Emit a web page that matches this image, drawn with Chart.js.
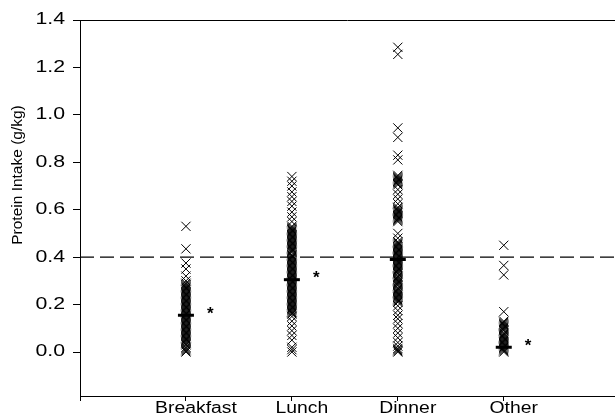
<!DOCTYPE html>
<html><head><meta charset="utf-8">
<script src="https://cdn.jsdelivr.net/npm/chart.js@4/dist/chart.umd.min.js"></script>
<style>html,body{margin:0;padding:0;background:#fff;overflow:hidden}#wrap{width:615px;height:416px}</style>
</head><body><div id="wrap"><canvas id="c" width="615" height="416"></canvas></div>
<script>
const categories = ['Breakfast', 'Lunch', 'Dinner', 'Other'];
const breakfast = [0.53, 0.435, 0.375, 0.35, 0.32, 0.30, 0.29, 0.285, 0.28, 0.275, 0.27, 0.265, 0.26, 0.255, 0.25, 0.245, 0.24, 0.235, 0.23, 0.225, 0.22, 0.215, 0.21, 0.205, 0.20, 0.195, 0.19, 0.185, 0.18, 0.175, 0.17, 0.165, 0.16, 0.155, 0.15, 0.145, 0.14, 0.135, 0.13, 0.125, 0.12, 0.115, 0.11, 0.105, 0.10, 0.095, 0.09, 0.085, 0.08, 0.075, 0.07, 0.065, 0.06, 0.055, 0.05, 0.045, 0.04, 0.035, 0.03, 0.02, 0.015, 0.01, 0.005, 0.0];
const lunch = [0.74, 0.72, 0.70, 0.675, 0.655, 0.635, 0.615, 0.59, 0.57, 0.55, 0.53, 0.525, 0.52, 0.515, 0.51, 0.505, 0.50, 0.495, 0.49, 0.485, 0.48, 0.475, 0.47, 0.465, 0.46, 0.455, 0.45, 0.445, 0.44, 0.435, 0.43, 0.425, 0.42, 0.41, 0.405, 0.40, 0.395, 0.39, 0.385, 0.38, 0.375, 0.37, 0.365, 0.36, 0.355, 0.35, 0.345, 0.34, 0.335, 0.33, 0.325, 0.32, 0.315, 0.31, 0.305, 0.30, 0.295, 0.29, 0.285, 0.28, 0.275, 0.27, 0.265, 0.26, 0.255, 0.25, 0.245, 0.24, 0.235, 0.23, 0.225, 0.22, 0.215, 0.21, 0.205, 0.20, 0.195, 0.19, 0.185, 0.18, 0.175, 0.17, 0.165, 0.16, 0.15, 0.13, 0.11, 0.09, 0.07, 0.05, 0.02, 0.01, 0.0];
const dinner = [1.285, 1.255, 0.945, 0.905, 0.83, 0.81, 0.745, 0.74, 0.735, 0.73, 0.725, 0.72, 0.715, 0.71, 0.705, 0.685, 0.665, 0.645, 0.625, 0.61, 0.605, 0.60, 0.595, 0.59, 0.585, 0.58, 0.575, 0.57, 0.565, 0.56, 0.555, 0.55, 0.50, 0.48, 0.465, 0.46, 0.455, 0.45, 0.445, 0.44, 0.435, 0.43, 0.425, 0.42, 0.415, 0.41, 0.405, 0.40, 0.395, 0.39, 0.385, 0.38, 0.375, 0.37, 0.365, 0.36, 0.355, 0.35, 0.345, 0.34, 0.335, 0.33, 0.32, 0.315, 0.31, 0.305, 0.30, 0.295, 0.29, 0.285, 0.28, 0.27, 0.265, 0.26, 0.255, 0.25, 0.245, 0.24, 0.235, 0.23, 0.225, 0.22, 0.215, 0.21, 0.195, 0.175, 0.155, 0.14, 0.12, 0.10, 0.08, 0.06, 0.04, 0.025, 0.015, 0.01, 0.005, 0.0];
const other = [0.45, 0.365, 0.325, 0.17, 0.13, 0.125, 0.12, 0.115, 0.11, 0.105, 0.10, 0.095, 0.09, 0.08, 0.075, 0.07, 0.065, 0.06, 0.055, 0.05, 0.045, 0.04, 0.035, 0.03, 0.025, 0.02, 0.015, 0.01, 0.005, 0.0];
const medians = [0.155, 0.305, 0.39, 0.02];
const significant = [true, true, false, true];
const referenceLine = 0.4;
const yTicks = [0.0, 0.2, 0.4, 0.6, 0.8, 1.0, 1.2, 1.4];
const yTitle = 'Protein Intake (g/kg)';

const groups = [breakfast, lunch, dinner, other];
const X_MIN = 0, X_MAX = 5.05, Y_MIN = -0.1855, Y_MAX = 1.4;
const FONT = '"Liberation Sans", Arial, sans-serif';

const datasets = [];
datasets.push({
  type: 'scatter', label: 'median', order: 0,
  data: medians.map((m, i) => ({x: i + 1, y: m})),
  pointStyle: 'line', pointRadius: 8, pointHoverRadius: 8,
  borderColor: '#000', backgroundColor: '#000', borderWidth: 3
});
groups.forEach((g, i) => {
  datasets.push({
    type: 'scatter', label: categories[i], order: 1,
    data: g.map(v => ({x: i + 1, y: v})),
    pointStyle: 'crossRot', pointRadius: 6.5, pointHoverRadius: 6.5,
    borderColor: '#000', backgroundColor: 'transparent', borderWidth: 1
  });
});
datasets.push({
  type: 'line', label: 'reference', order: 2,
  data: [{x: X_MIN, y: referenceLine}, {x: X_MAX, y: referenceLine}],
  borderColor: '#000', borderWidth: 1.2, borderDash: [14, 6],
  pointRadius: 0, fill: false
});

const extras = {
  id: 'extras',
  afterDraw(chart) {
    const {ctx, chartArea: a, scales: {x, y}} = chart;
    ctx.save();
    ctx.strokeStyle = '#000'; ctx.lineWidth = 1;
    ctx.beginPath(); ctx.moveTo(a.left, a.top + 0.5); ctx.lineTo(a.right, a.top + 0.5); ctx.stroke();
    ctx.fillStyle = '#000';
    // y tick labels (wide lettering as in the reference)
    ctx.font = '16px ' + FONT;
    ctx.textAlign = 'right'; ctx.textBaseline = 'middle';
    y.ticks.forEach(t => {
      ctx.save();
      ctx.translate(65, y.getPixelForValue(t.value));
      ctx.scale(1.33, 1);
      ctx.fillText(Number(t.value).toFixed(1), 0, 0);
      ctx.restore();
    });
    // x tick labels
    ctx.textAlign = 'center'; ctx.textBaseline = 'alphabetic';
    x.ticks.forEach(t => {
      const lab = categories[t.value - 1];
      if (!lab) return;
      ctx.save();
      ctx.translate(x.getPixelForValue(t.value) + 10, 413);
      ctx.scale(1.21, 1);
      ctx.fillText(lab, 0, 0);
      ctx.restore();
    });
    // significance asterisks
    ctx.font = 'bold 17px ' + FONT;
    ctx.textAlign = 'center'; ctx.textBaseline = 'middle';
    medians.forEach((m, i) => {
      if (significant[i]) ctx.fillText('*', x.getPixelForValue(i + 1 + 0.23), y.getPixelForValue(m) - 1);
    });
    // y axis title
    ctx.font = '15.5px ' + FONT;
    ctx.translate(18, 175); ctx.rotate(-Math.PI / 2);
    ctx.fillText(yTitle, 0, 0);
    ctx.restore();
  }
};

new Chart(document.getElementById('c'), {
  type: 'scatter',
  data: {datasets},
  plugins: [extras],
  options: {
    responsive: false, animation: false, devicePixelRatio: 1,
    layout: {autoPadding: false, padding: {top: 20, left: 0, right: 0, bottom: 0}},
    plugins: {legend: {display: false}, tooltip: {enabled: false}},
    scales: {
      x: {
        type: 'linear', min: X_MIN, max: X_MAX,
        afterBuildTicks: s => { s.ticks = [0, 1, 2, 3, 4].map(v => ({value: v})); },
        afterFit: s => { s.height = 20; },
        ticks: {display: false, callback: v => categories[v - 1] || ''},
        grid: {drawOnChartArea: false, drawTicks: true, tickLength: 5, color: '#000'},
        border: {display: true, color: '#000', width: 1}
      },
      y: {
        min: Y_MIN, max: Y_MAX,
        afterBuildTicks: s => { s.ticks = yTicks.map(v => ({value: v})); },
        afterFit: s => { s.width = 80; },
        ticks: {display: false, callback: v => Number(v).toFixed(1)},
        grid: {drawOnChartArea: false, drawTicks: true, tickLength: 7, color: '#000'},
        border: {display: true, color: '#000', width: 1}
      }
    }
  }
});
</script></body></html>
